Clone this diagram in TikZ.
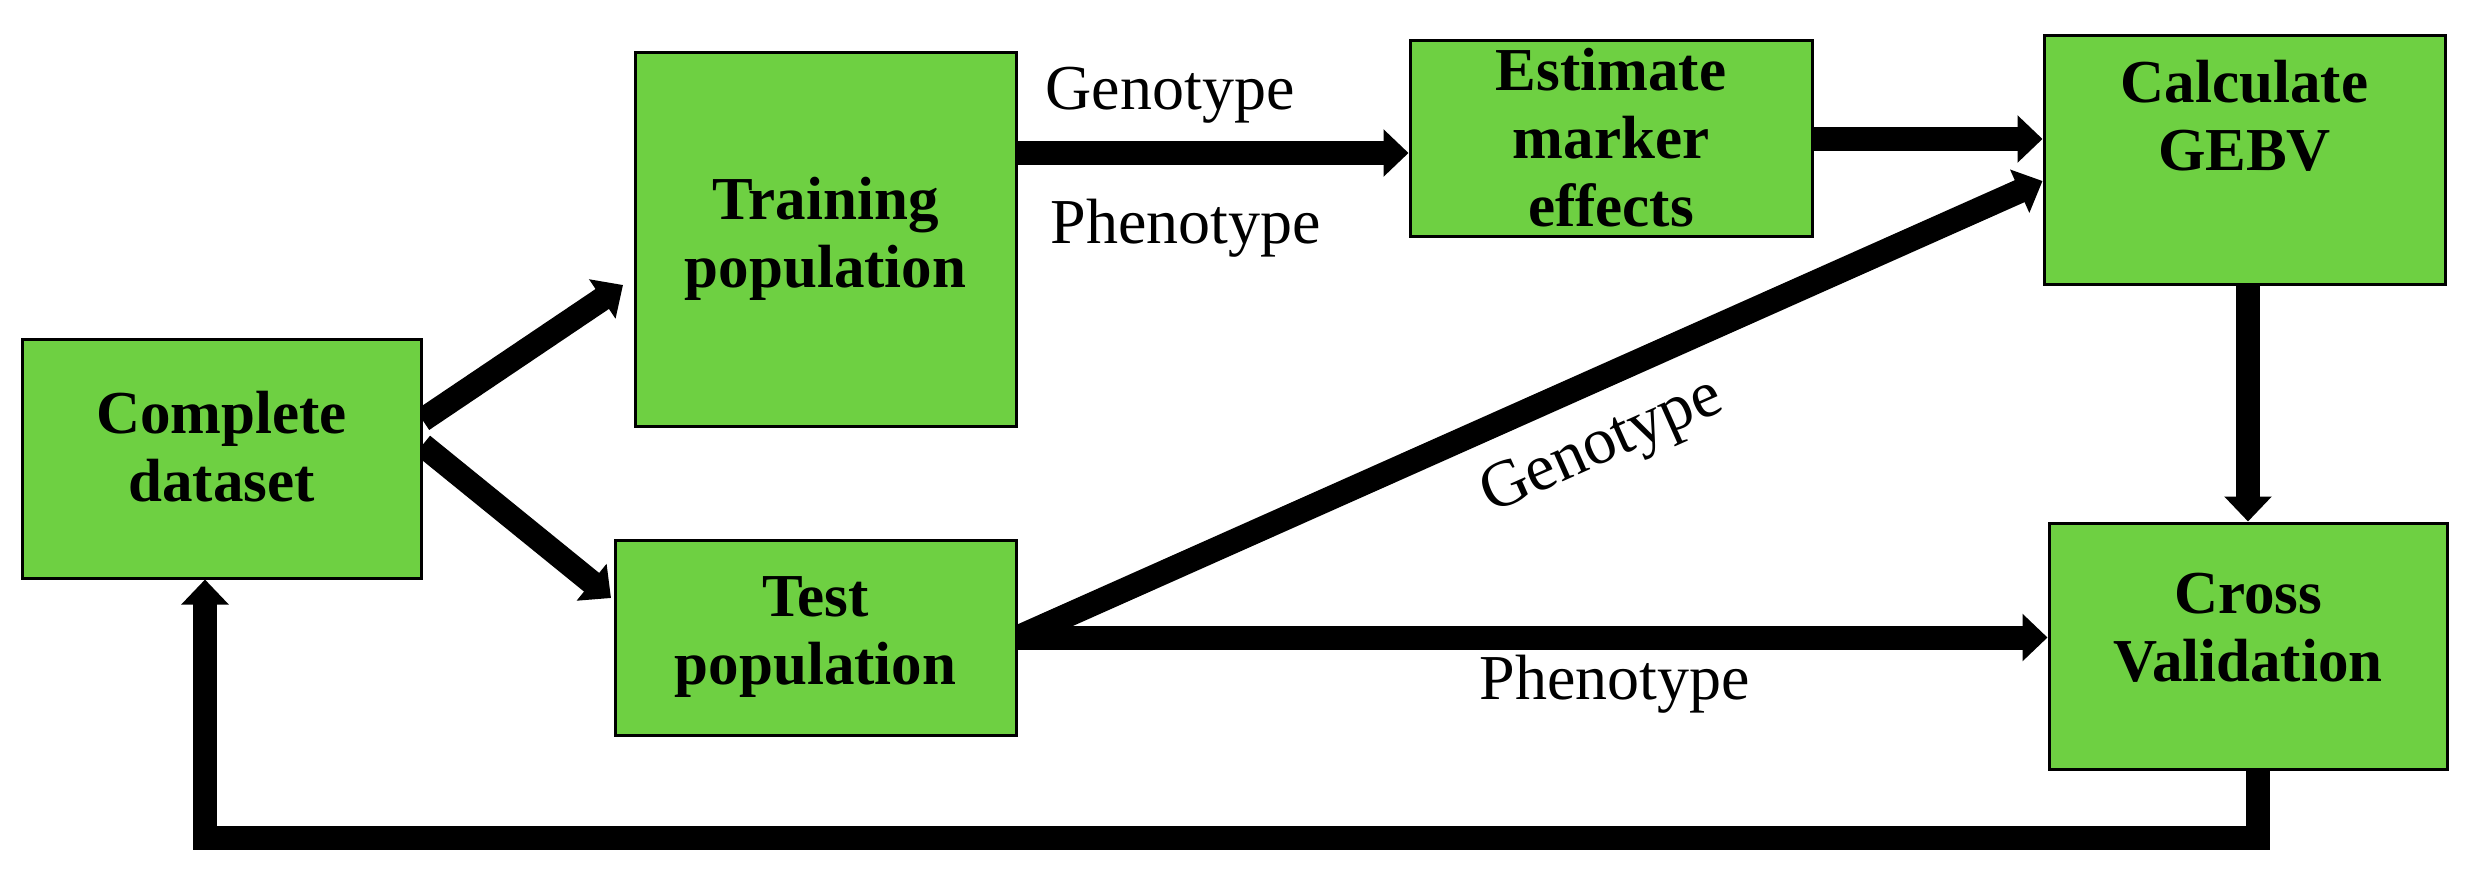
\documentclass[tikz,border=0pt]{standalone}
\usepackage{fontspec}
\setmainfont{Liberation Serif}
\usetikzlibrary{arrows.meta,backgrounds}
\definecolor{boxgreen}{RGB}{110,208,66}
\tikzset{
  box/.style={draw=black, line width=3pt, fill=boxgreen, align=center, inner sep=0pt,
    font=\bfseries\fontsize{61}{68}\selectfont, text=black},
  arr/.style={line width=24pt, -{Triangle[width=46pt,length=25pt]}, line join=miter},
  lbl/.style={font=\fontsize{64}{70}\selectfont, inner sep=0pt, text=black},
}
\begin{document}
\begin{tikzpicture}[x=1pt,y=-1pt]
\useasboundingbox (0,0) rectangle (2471,871);
\node[box, minimum width=399pt, minimum height=239pt, text depth=24pt] (cd) at (221.5,458.5) {Complete\\dataset};
\node[box, minimum width=381pt, minimum height=374pt] (tr) at (825.5,239) {Training\\population};
\node[box, minimum width=401pt, minimum height=195pt] (te) at (815.5,637.5) {Test\\population};
\node[box, minimum width=402pt, minimum height=196pt] (em) at (1611,138) {Estimate\\marker\\effects};
\node[box, minimum width=401pt, minimum height=249pt, text depth=88pt] (gebv) at (2244.5,159.5) {Calculate\\GEBV};
\node[box, minimum width=398pt, minimum height=246pt, text depth=38pt] (cv) at (2248,646) {Cross\\Validation};
\coordinate (t1) at (623,285);
\coordinate (t2) at (611,598);
\coordinate (dx) at (2248,0);
\coordinate (lr) at (2258,838);
\coordinate (ll) at (205,838);
\begin{scope}[on background layer]
\fill[white] (0,0) rectangle (2471,871);
\draw[arr] (cd.east |- 0,420) -- (t1);
\draw[arr] (cd.east |- 0,445) -- (t2);
\draw[arr] (tr.east |- 0,153) -- node[lbl, pos=0.39, yshift=58pt]{Genotype}
  node[lbl, pos=0.43, yshift=-75pt]{Phenotype} (em.west |- 0,153);
\draw[arr] (em.east |- 0,139) -- (gebv.west |- 0,139);
\draw[arr] (te.east) -- node[lbl, font=\fontsize{66}{72}\selectfont, pos=0.545, sloped, below=24pt]{Genotype} (gebv.west |- 0,181);
\draw[arr] (te.east) -- node[lbl, pos=0.58, yshift=-47pt]{Phenotype} (cv.west |- te.east);
\draw[arr] (gebv.south -| dx) -- (cv.north -| dx);
\draw[arr] (cv.south -| lr) -- (lr) -- (ll) -- (cd.south -| ll);
\end{scope}
\end{tikzpicture}
\end{document}
